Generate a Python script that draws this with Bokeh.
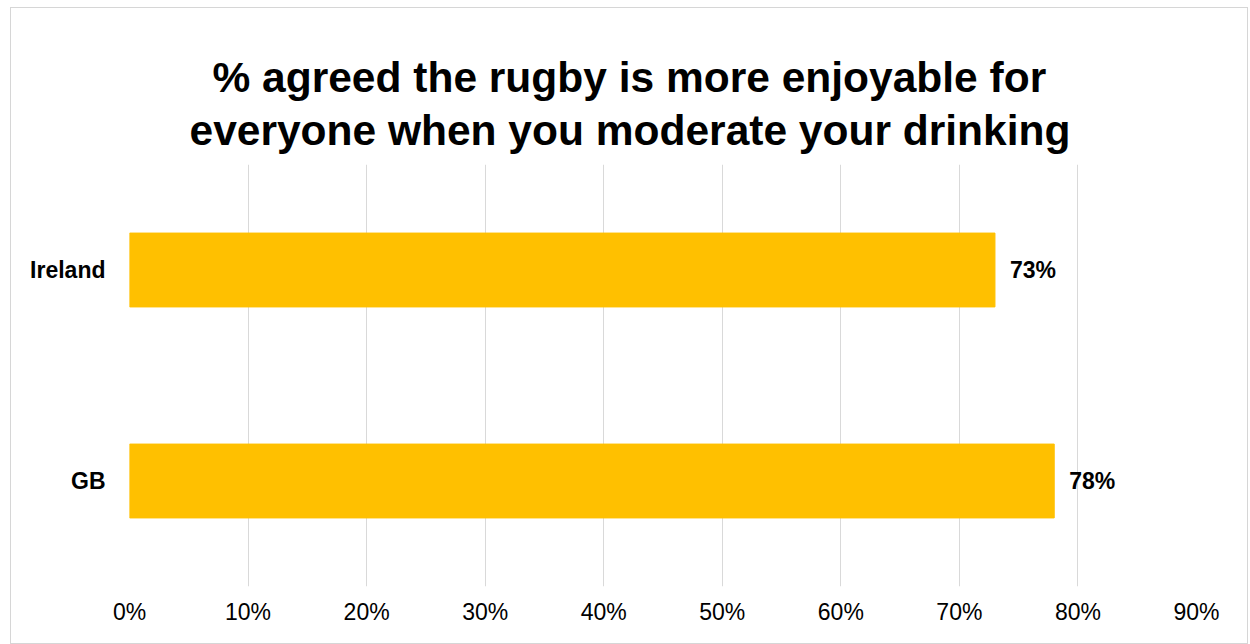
from bokeh.plotting import figure
from bokeh.models import FactorRange, Range1d, Title, FixedTicker, ColumnDataSource, CustomJSTickFormatter
from bokeh.core.properties import value
from bokeh.embed import file_html
from bokeh.resources import INLINE

categories = ["GB", "Ireland"]
values = [78, 73]
labels = ["78%", "73%"]
ticks = [0, 10, 20, 30, 40, 50, 60, 70, 80, 90]
title_line1 = "% agreed the rugby is more enjoyable for"
title_line2 = "everyone when you moderate your drinking"

src = ColumnDataSource(dict(cat=categories, val=values, lab=labels))

p = figure(width=1238, height=637, y_range=FactorRange(factors=categories, range_padding=0),
           x_range=Range1d(0, 90), output_backend="svg", toolbar_location=None,
           title=None, min_border_left=118, min_border_right=53, min_border_top=156,
           min_border_bottom=59)
p.margin = (7, 2, 0, 10)
p.styles = {"border": "1px solid #d6d6d6", "box-sizing": "border-box"}
p.outline_line_color = None

p.hbar(y="cat", right="val", left=0, height=0.35, source=src, color="#FFC000")
p.text(x="val", y="cat", text="lab", source=src, x_offset=15, text_baseline="middle",
       text_align="left", text_font_size="23px", text_font_style="bold",
       text_font=value("Liberation Sans"), text_color="#000000")

p.xaxis.ticker = FixedTicker(ticks=ticks)
p.xaxis.formatter = CustomJSTickFormatter(code="return tick + '%'")
p.xaxis.axis_line_color = None
p.xaxis.major_tick_line_color = None
p.xaxis.minor_tick_line_color = None
p.xaxis.major_label_text_font = "Liberation Sans"
p.xaxis.major_label_text_font_size = "23px"
p.xaxis.major_label_text_color = "#000000"
p.xaxis.major_label_standoff = 6

p.yaxis.axis_line_color = None
p.yaxis.major_tick_line_color = None
p.yaxis.minor_tick_line_color = None
p.yaxis.major_label_text_font = "Liberation Sans"
p.yaxis.major_label_text_font_size = "23px"
p.yaxis.major_label_text_font_style = "bold"
p.yaxis.major_label_text_color = "#000000"
p.yaxis.major_label_standoff = 18

p.xgrid.grid_line_color = "#d9d9d9"
p.xgrid.grid_line_width = 1
p.ygrid.grid_line_color = None

p.add_layout(Title(text=title_line2, align="left", offset=60, text_font="Liberation Sans",
                   text_font_size="42.5px", text_font_style="bold", text_color="#000000",
                   standoff=22), "above")
p.add_layout(Title(text=title_line1, align="left", offset=83, text_font="Liberation Sans",
                   text_font_size="42.5px", text_font_style="bold", text_color="#000000",
                   standoff=-14), "above")

open("out.html", "w").write(file_html(p, INLINE))
